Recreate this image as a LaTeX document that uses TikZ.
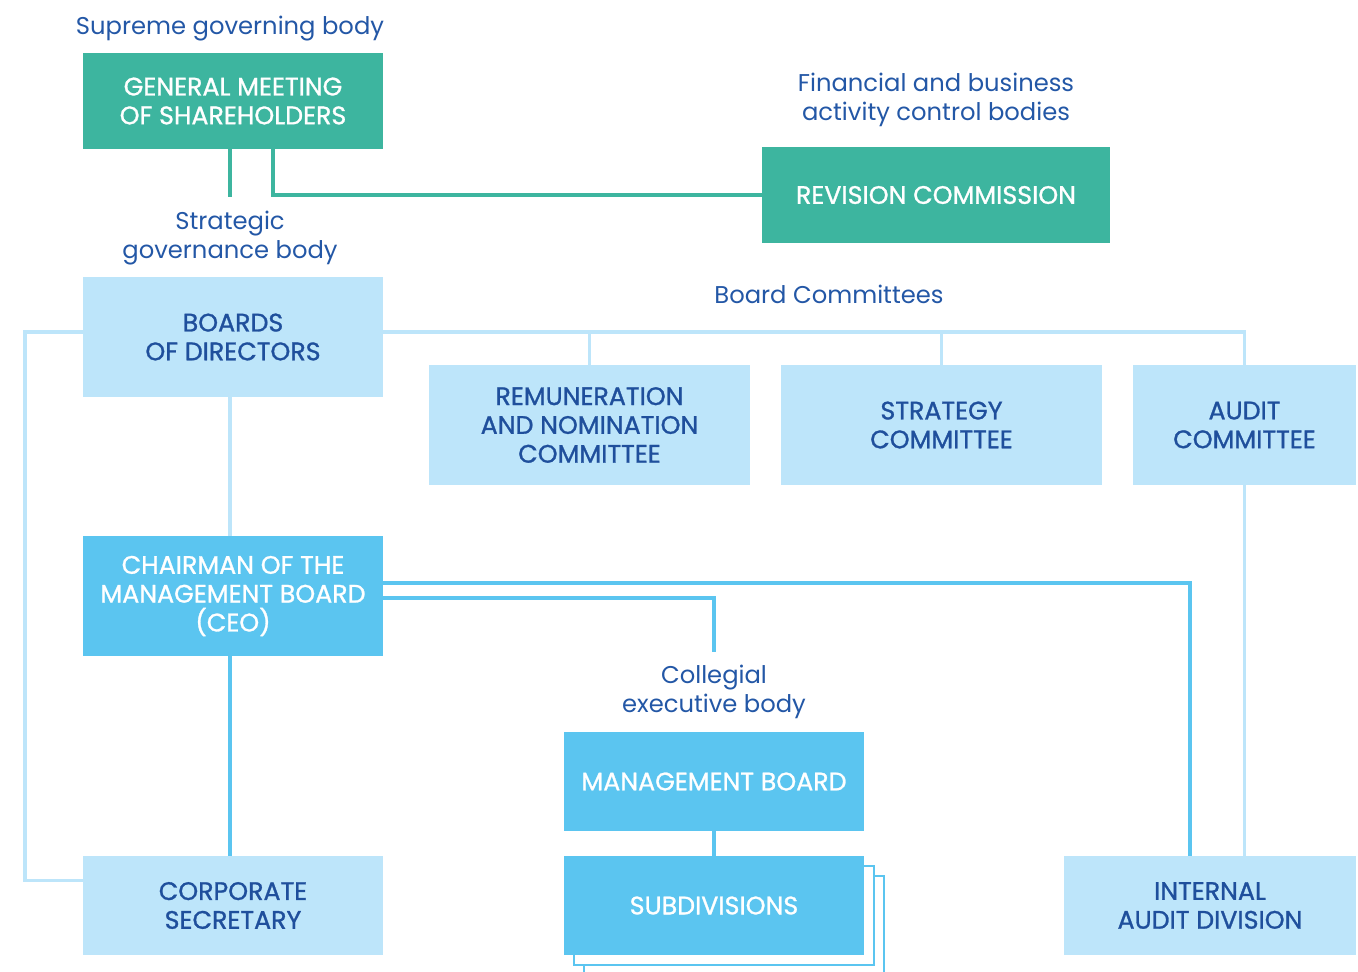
\documentclass[tikz,border=0pt]{standalone}
\usepackage{fontspec}
\setmainfont{Poppins}
\newfontfamily\boxfont{Poppins}[FakeBold=1.1]
\usetikzlibrary{calc}

\definecolor{tealbox}{HTML}{3DB59F}
\definecolor{palebox}{HTML}{BDE5FA}
\definecolor{bluebox}{HTML}{5BC5F0}
\definecolor{navytext}{HTML}{2357A6}
\definecolor{boxtext}{HTML}{1F4F9C}

\begin{document}
\begin{tikzpicture}[x=0.02cm, y=-0.02cm]

\useasboundingbox (0, 0) rectangle (1358, 971) ;

% styles

\tikzstyle{caption} = [align=center, text=navytext, font=\fontsize{13.8}{16.4}\selectfont, inner sep=0pt]
\tikzstyle{box} = [align=center, inner sep=0pt, font=\boxfont\fontsize{14.4}{16.4}\selectfont]
\tikzstyle{teal box} = [box, fill=tealbox, text=white]
\tikzstyle{pale box} = [box, fill=palebox, text=boxtext]
\tikzstyle{blue box} = [box, fill=bluebox, text=white]

\tikzstyle{teal line} = [line width=2.2pt, tealbox]
\tikzstyle{pale line} = [line width=2.2pt, palebox]
\tikzstyle{blue line} = [line width=2.2pt, bluebox]

% captions

\node [caption] (supreme) at (230, 29) {Supreme governing body} ;
\node [caption] (control) at (936, 100) {Financial and business\\activity control bodies} ;
\node [caption] (strategic) at (230, 238) {Strategic\\governance body} ;
\node [caption] (committees) at (829, 294) {Board Committees} ;
\node [caption] (collegial) at (714, 692) {Collegial\\executive body} ;

% stacked sheets behind subdivisions

\foreach \shift in {20, 10}
	\draw [line width=1.6pt, bluebox, fill=white]
		(564 + \shift, 856 + \shift) rectangle (864 + \shift, 955 + \shift) ;

% boxes

\node [teal box, minimum width=6cm, minimum height=1.92cm] (gms) at (233, 101)
	{GENERAL MEETING\\OF SHAREHOLDERS} ;
\node [teal box, minimum width=6.96cm, minimum height=1.92cm] (revision) at (936, 195)
	{REVISION COMMISSION} ;

\node [pale box, minimum width=6cm, minimum height=2.4cm] (boards) at (233, 337)
	{BOARDS\\OF DIRECTORS} ;
\node [pale box, minimum width=6.42cm, minimum height=2.4cm] (remuneration) at (589.5, 425)
	{REMUNERATION\\AND NOMINATION\\COMMITTEE} ;
\node [pale box, minimum width=6.42cm, minimum height=2.4cm] (strategy) at (941.5, 425)
	{STRATEGY\\COMMITTEE} ;
\node [pale box, minimum width=4.46cm, minimum height=2.4cm] (audit) at (1244.5, 425)
	{AUDIT\\COMMITTEE} ;

\node [blue box, minimum width=6cm, minimum height=2.4cm] (ceo) at (233, 596)
	{CHAIRMAN OF THE\\MANAGEMENT BOARD\\(CEO)} ;
\node [blue box, minimum width=6cm, minimum height=1.98cm] (management) at (714, 781.5)
	{MANAGEMENT BOARD} ;
\node [blue box, minimum width=6cm, minimum height=1.98cm] (subdivisions) at (714, 905.5)
	{SUBDIVISIONS} ;

\node [pale box, minimum width=6cm, minimum height=1.98cm] (secretary) at (233, 905.5)
	{CORPORATE\\SECRETARY} ;
\node [pale box, minimum width=5.84cm, minimum height=1.98cm] (internal) at (1210, 905.5)
	{INTERNAL\\AUDIT DIVISION} ;

% shareholders links

\coordinate (gmsfoot) at ([yshift=-0.96cm]gms.south) ;

\draw [teal line] ([xshift=-0.06cm]gms.south) -- ([xshift=-0.06cm]gmsfoot) ;
\draw [teal line] ([xshift=0.8cm]gms.south) |- (revision.west) ;

% board and committees

\coordinate (bus) at ([yshift=0.1cm]boards.east) ;

\draw [pale line] (bus) -| (audit.north) ;
\draw [pale line] (remuneration.north) -- (remuneration.north |- bus) ;
\draw [pale line] (strategy.north) -- (strategy.north |- bus) ;
\draw [pale line] ([yshift=0.1cm]boards.west) -- ++(-1.16cm, 0) |- ([yshift=0.5cm]secretary.west) ;
\draw [pale line] ([xshift=-0.06cm]boards.south) -- ([xshift=-0.06cm]ceo.north) ;
\draw [pale line] (audit.south) -- (audit.south |- internal.north) ;

% executive links

\draw [blue line] ([yshift=0.26cm]ceo.east) -| ([xshift=-0.4cm]internal.north) ;
\draw [blue line] ([yshift=-0.04cm]ceo.east) -| ([yshift=0.26cm]collegial.north) ;
\draw [blue line] ([xshift=-0.06cm]ceo.south) -- ([xshift=-0.06cm]secretary.north) ;
\draw [blue line] (management.south) -- (subdivisions.north) ;

\end{tikzpicture}
\end{document}
